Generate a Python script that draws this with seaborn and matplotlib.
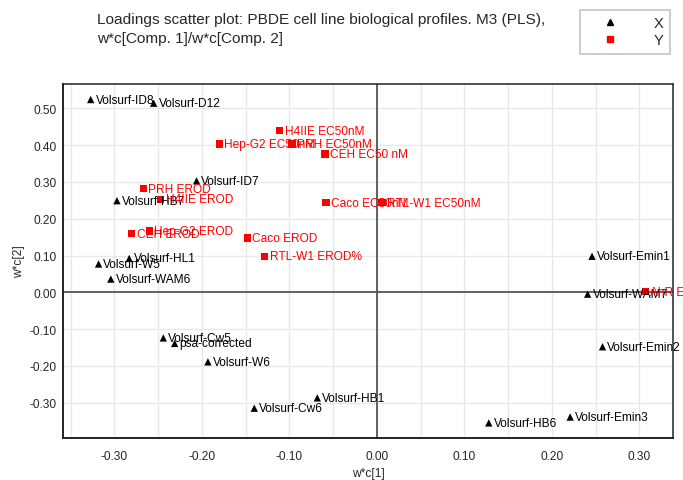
import matplotlib
matplotlib.use("Agg")
import matplotlib.pyplot as plt
from matplotlib.ticker import MultipleLocator, FormatStrFormatter
from matplotlib.lines import Line2D
import seaborn as sns
import pandas as pd

# X loadings (black triangles)
x_names = ["Volsurf-ID8", "Volsurf-D12", "Volsurf-ID7", "Volsurf-HB7", "Volsurf-HL1",
           "Volsurf-W5", "Volsurf-WAM6", "Volsurf-Cw5", "psa-corrected", "Volsurf-W6",
           "Volsurf-HB1", "Volsurf-Cw6", "Volsurf-Emin1", "Volsurf-WAM7", "Volsurf-Emin2",
           "Volsurf-Emin3", "Volsurf-HB6"]
x_c1 = [-0.327, -0.255, -0.206, -0.297, -0.283, -0.318, -0.304, -0.244, -0.231, -0.193,
        -0.068, -0.140, 0.246, 0.241, 0.258, 0.221, 0.128]
x_c2 = [0.524, 0.514, 0.303, 0.249, 0.092, 0.077, 0.036, -0.124, -0.139, -0.189,
        -0.287, -0.315, 0.098, -0.005, -0.148, -0.339, -0.355]

# Y loadings (red squares)
y_names = ["H4IIE EC50nM", "Hep-G2 EC50nM", "PRH EC50nM", "CEH EC50 nM", "PRH EROD",
           "H4IIE EROD", "Caco EC50nM", "RTL-W1 EC50nM", "CEH EROD", "Hep-G2 EROD",
           "Caco EROD", "RTL-W1 EROD%", "AhR EC50"]
y_c1 = [-0.111, -0.180, -0.097, -0.059, -0.267, -0.247, -0.058, 0.006, -0.280, -0.260,
        -0.148, -0.128, 0.307]
y_c2 = [0.439, 0.403, 0.403, 0.376, 0.282, 0.253, 0.244, 0.244, 0.159, 0.167,
        0.148, 0.098, 0.002]

title = "Loadings scatter plot: PBDE cell line biological profiles. M3 (PLS),\nw*c[Comp. 1]/w*c[Comp. 2]"

df = pd.DataFrame({
    "name": x_names + y_names,
    "c1": x_c1 + y_c1,
    "c2": x_c2 + y_c2,
    "type": ["X"] * len(x_names) + ["Y"] * len(y_names),
})

sns.set_style("white")
plt.rcParams["font.family"] = ["Liberation Sans", "DejaVu Sans"]
plt.rcParams["axes.unicode_minus"] = False

FS = 8.6

fig = plt.figure(figsize=(6.83, 4.81), dpi=100)
ax = fig.add_axes([63.3 / 683, 1 - 439 / 481, (672.7 - 63.3) / 683, (439 - 85) / 481])

ax.set_xlim(-0.3583, 0.3382)
ax.set_ylim(-0.396, 0.5662)

ax.xaxis.set_major_locator(MultipleLocator(0.1))
ax.xaxis.set_minor_locator(MultipleLocator(0.05))
ax.yaxis.set_major_locator(MultipleLocator(0.1))
ax.yaxis.set_minor_locator(MultipleLocator(0.05))
ax.xaxis.set_major_formatter(FormatStrFormatter("%.2f"))
ax.yaxis.set_major_formatter(FormatStrFormatter("%.2f"))

ax.grid(True, axis="x", which="both", color="#e8e8e8", lw=1.0, zorder=0)
ax.grid(True, axis="y", which="major", color="#e8e8e8", lw=1.0, zorder=0)
ax.set_axisbelow(True)

ax.axhline(0, color="#555555", lw=1.3, zorder=1)
ax.axvline(0, color="#555555", lw=1.3, zorder=1)

sns.scatterplot(data=df, x="c1", y="c2", hue="type", style="type",
                markers={"X": "^", "Y": "s"}, palette={"X": "black", "Y": "red"},
                s=28, linewidth=0, legend=False, ax=ax, zorder=3)

for _, r in df.iterrows():
    ax.annotate(r["name"], (r["c1"], r["c2"]), xytext=(3.5, 0), textcoords="offset points",
                ha="left", va="center", fontsize=FS,
                color="black" if r["type"] == "X" else "red", annotation_clip=False, zorder=4)

for side in ["left", "bottom", "top", "right"]:
    ax.spines[side].set_color("#222222")
    ax.spines[side].set_linewidth(1.1)
ax.spines["left"].set_linewidth(1.4)
ax.spines["bottom"].set_linewidth(1.4)

ax.tick_params(which="both", direction="inout", length=6, width=1, color="#222222",
               labelsize=FS, pad=2)
ax.tick_params(axis="x", pad=5.5)

ax.set_xlabel("w*c[1]", fontsize=FS, labelpad=4)
ax.set_ylabel("w*c[2]", fontsize=FS, labelpad=3)

fig.text(97 / 683, 1 - 13 / 481, title, ha="left", va="top", fontsize=11.1, linespacing=1.45)

handles = [Line2D([], [], marker="^", color="black", ls="none", markersize=4.5),
           Line2D([], [], marker="s", color="red", ls="none", markersize=4.5)]
leg = fig.legend(handles, ["X", "Y"], loc="upper right",
                 bbox_to_anchor=(670 / 683, 1 - 10.7 / 481), frameon=True,
                 fontsize=10.5, handletextpad=1.4, borderpad=0.45, labelspacing=0.22,
                 fancybox=False, shadow=False, borderaxespad=0, handlelength=3.2)
leg.get_frame().set_edgecolor("#c0c0c0")
leg.get_frame().set_linewidth(1.4)

fig.savefig("out.png", dpi=100)
